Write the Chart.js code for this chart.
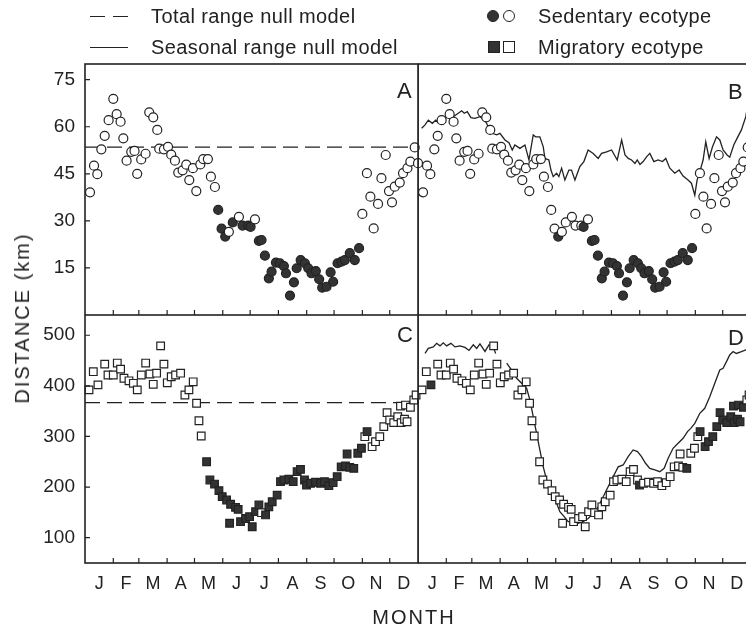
<!DOCTYPE html>
<html>
<head>
<meta charset="utf-8">
<script src="https://cdn.jsdelivr.net/npm/chart.js@4"></script>
<style>
  html, body { margin: 0; padding: 0; background: #fff; }
  body { width: 746px; height: 633px; overflow: hidden; position: relative;
         font-family: "Liberation Sans", Arial, sans-serif; color: #222; }
  #wrap { position: absolute; left: 0; top: 0; width: 770px; height: 633px; }
  canvas { position: absolute; }
  .txt { position: absolute; white-space: nowrap; line-height: 1; }
  .leg { font-size: 20px; letter-spacing: 0.4px; }
  .dash { position: absolute; height: 0; border-top: 1.5px solid #222; }
  .mk { position: absolute; width: 12px; height: 12px; border: 1.5px solid #222; box-sizing: border-box; }
  .letter { font-size: 22px; }
</style>
</head>
<body>
<div id="wrap">
  <canvas id="cA" width="430" height="261" style="left:0;top:54px"></canvas>
  <canvas id="cB" width="345" height="261" style="left:418px;top:54px"></canvas>
  <canvas id="cC" width="430" height="318" style="left:0;top:315px"></canvas>
  <canvas id="cD" width="345" height="318" style="left:418px;top:315px"></canvas>

  <!-- legend -->
  <div class="dash" style="left:90px;top:16px;width:15px"></div>
  <div class="dash" style="left:113px;top:16px;width:15px"></div>
  <div class="txt leg" style="left:151px;top:6px">Total range null model</div>
  <div class="dash" style="left:90px;top:47px;width:38px"></div>
  <div class="txt leg" style="left:151px;top:37px">Seasonal range null model</div>

  <div class="mk" style="left:487px;top:10px;border-radius:50%;background:#333"></div>
  <div class="mk" style="left:503px;top:10px;border-radius:50%;background:#fff"></div>
  <div class="txt leg" style="left:538px;top:6px">Sedentary ecotype</div>
  <div class="mk" style="left:488px;top:41px;background:#333"></div>
  <div class="mk" style="left:503px;top:41px;background:#fff"></div>
  <div class="txt leg" style="left:538px;top:37px">Migratory ecotype</div>

  <div class="txt letter" style="left:397px;top:80px">A</div>
  <div class="txt letter" style="left:728px;top:81px">B</div>
  <div class="txt letter" style="left:397px;top:324px">C</div>
  <div class="txt letter" style="left:728px;top:327px">D</div>

  <div class="txt" style="left:22px;top:318px;font-size:20px;letter-spacing:2px;transform:translate(-50%,-50%) rotate(-90deg)">DISTANCE (km)</div>
  <div class="txt" style="left:414px;top:617px;font-size:20px;letter-spacing:2px;transform:translate(-50%,-50%)">MONTH</div>
</div>

<script>
// ---- axes ----
const monthStarts = [0, 31, 59, 90, 120, 151, 181, 212, 243, 273, 304, 334, 365];
const monthLetters = ['J', 'F', 'M', 'A', 'M', 'J', 'J', 'A', 'S', 'O', 'N', 'D'];
const sedTicks = [15, 30, 45, 60, 75];
const migTicks = [100, 200, 300, 400, 500];

// ---- sedentary ecotype (panels A, B) ----
const sedDays = [5.5, 9.9, 13.5, 17.9, 21.6, 25.9, 31, 34.7, 39, 42,
  45.6, 50.7, 54.3, 57.2, 61.6, 66.4, 70.4, 74.8, 79.2, 81.4,
  86.5, 91, 94.5, 98.6, 102.2, 107, 111, 114.3, 118.3, 122,
  126.4, 129.6, 134.7, 138, 142.4, 146, 149.7, 153.7, 157.7, 162,
  168.7, 172.7, 179, 181.5, 186.3, 190.6, 193.5, 197.2, 201.5, 204.5,
  209.3, 213.7, 218, 220.3, 224.7, 229, 232, 236.4, 241, 244.7,
  248.3, 253, 256.7, 260, 264.8, 269.2, 272, 276.8, 281.2, 284.8,
  290.2, 295.7, 300.4, 304, 309, 312.8, 316.4, 321.2, 324.9, 329.6,
  333.2, 336.5, 339.5, 345, 348.6, 353.4, 356.6, 361.4, 365];
const sedVals = [39.1, 47.6, 44.9, 52.8, 57.1, 62.1, 68.9, 64.0, 61.6, 56.3,
  49.2, 52.0, 52.3, 45.0, 49.6, 51.4, 64.6, 63.0, 59.0, 53.0,
  52.8, 53.6, 51.1, 49.2, 45.4, 46.1, 47.9, 43.0, 46.8, 39.5,
  48.0, 49.7, 49.7, 44.1, 40.8, 33.5, 27.5, 25.0, 26.5, 29.5,
  31.3, 28.5, 28.5, 28.1, 30.5, 23.6, 23.9, 18.9, 11.7, 13.8,
  16.7, 16.5, 15.6, 13.3, 6.2, 10.4, 14.9, 17.5, 16.5, 14.9,
  13.3, 14.0, 11.4, 8.7, 9.0, 13.6, 10.6, 16.5, 17.0, 17.5,
  19.7, 17.5, 21.3, 32.2, 45.2, 37.7, 27.6, 35.4, 43.6, 51.0,
  39.5, 35.9, 40.9, 42.2, 45.2, 46.8, 48.9, 53.4, 48.4];
// 1 = filled marker
const sedFilledA = '0000000000 0000000000 0000000000 0000011101 0111011111 1111111111 1111111111 1110000000 000000000';
const sedFilledB = '0000000000 0000000000 0000000000 0000000100 0001011111 1111111111 1111111111 1110000000 000000000';

// ---- migratory ecotype (panels C, D) ----
const migDays = [4.4, 9.1, 14.2, 21.6, 25.2, 31, 35.4, 39, 42.7, 48.2,
  53, 57.3, 61.7, 66.5, 71.2, 74.8, 78.5, 82.9, 86.5, 90.2,
  94.5, 99.3, 104.8, 109.5, 113.9, 118.6, 122.3, 124.9, 127.4, 133.3,
  136.9, 142, 146.8, 150.4, 155.2, 159.6, 165, 167.9, 158.5, 170.5,
  176, 180.4, 183.3, 187, 190.6, 193.5, 197.9, 201.5, 205.2, 210.6,
  214.3, 218, 223.4, 228.2, 232.5, 236.2, 240.6, 242.8, 247.2, 252.7,
  258.2, 262.5, 267.3, 272, 276.4, 280.8, 285.5, 290.2, 294.6, 287.3,
  299, 303, 306.7, 309.2, 314.7, 318.4, 323.1, 327.5, 331.1, 334,
  338.4, 342.8, 346.5, 350.2, 353, 345.8, 351.3, 356.7, 360.4, 362.9];
const migVals = [392, 428, 402, 443, 421.5, 421.5, 445, 433, 415, 410,
  405, 392, 421.5, 445, 423.5, 403, 425, 479, 443, 406,
  418, 421.5, 425, 382, 392, 408, 365.6, 331, 301, 250,
  214, 206, 193, 181, 174.5, 166, 160, 156, 128.5, 131.6,
  138, 141.5, 121.7, 151.4, 164.6, 149.4, 145, 161, 171, 184,
  210.7, 214, 215.4, 210.7, 230.4, 235, 214, 204, 207.5, 209.5,
  207.5, 210.7, 202.8, 208.7, 220.5, 240, 241.7, 239, 237, 265.4,
  266.8, 276.7, 299.6, 309.5, 279.8, 289.7, 299.6, 319.4, 347, 332.6,
  327.3, 339, 327.3, 334, 329, 360, 362, 357.7, 372, 382];
const migFilledC = '0000000000 0000000000 0000000001 1111111111 1111101111 1111111111 1111111111 1101000000 0000000000';
const migFilledD = '0010000000 0000000000 0000000000 0000000000 0000000000 0000000100 0000000010 0001111111 1111111100';

// ---- null models ----
const totalNullSed = 53.5;
const totalNullMig = 367;

const seasonSedDays = [4, 7.7, 11.3, 15.7, 19.4, 23, 27.7, 30.3, 33.2, 38.7,
  44.1, 47.9, 50.7, 54, 58, 62.4, 67.9, 73.4, 77, 81.4,
  86.2, 89.8, 95.3, 99.7, 103.3, 106.2, 111.7, 117.2, 121.6, 126.3,
  128.9, 133.6, 137.3, 139.1, 143.5, 145.7, 148.2, 151.9, 154.4, 157.4,
  161, 165.4, 168.3, 172, 177.4, 181.8, 186.5, 192, 197.5, 201.2,
  206.7, 212.2, 218.4, 223.2, 226.9, 230.5, 234.1, 237.8, 240.3, 243.3,
  246.8, 250.5, 254.1, 258.5, 263.2, 268, 271.6, 276, 281.5, 286.2,
  290.6, 296, 299.7, 303.4, 305.9, 308.9, 312.5, 315.4, 319.1, 322.8,
  327.2, 330.8, 334.4, 338.8, 341.7, 346.1, 349.7, 354.5, 359.3, 363];
const seasonSedVals = [59.5, 60.6, 62.1, 61.1, 62.1, 61.1, 60.8, 62.7, 64.3, 63.2,
  64.3, 65.1, 64.3, 64.8, 62.9, 62.7, 63.2, 62.1, 60.0, 57.9,
  57.4, 57.9, 55.8, 54.9, 52.6, 54.2, 53.1, 54.2, 49.4, 57.4,
  56.8, 56.8, 53.6, 49.9, 49.4, 46.2, 44.1, 45.2, 44.1, 46.8,
  43, 46.2, 46.2, 43, 47.3, 48.9, 52.6, 51.5, 49.9, 51.5,
  52, 52.6, 49.4, 55.8, 51, 49.9, 49.4, 48.3, 49.4, 48,
  48.9, 50.4, 51.5, 48.9, 49.4, 48.9, 49.9, 46.8, 45.2, 46.2,
  44.3, 43, 42, 38.2, 43, 45.7, 49.4, 55.2, 49.9, 53.6,
  56.8, 55.8, 52.6, 51, 50.3, 54.2, 56.3, 59, 63.2, 70];

const seasonMigDays = [7.7, 11.3, 16.8, 20.4, 24.1, 27.7, 31.4, 36.1, 40.5, 46,
  51.5, 55.9, 60.6, 64.3, 67.9, 73.4, 77.8, 82.5, 85.1, 90,
  97.2, 102.6, 108.1, 113.6, 119.1, 122.7, 126.3, 130, 133.6, 137.3,
  141, 144.6, 148.2, 151.9, 155.5, 160.2, 164.6, 170.1, 175.6, 181,
  186.5, 192, 197.5, 203, 208.4, 213.9, 219.4, 224.9, 230.3, 235.8,
  240.6, 245, 249.4, 254.1, 259.6, 265, 269.8, 274.2, 279.6, 285.1,
  290.6, 295.4, 299, 303.4, 308.9, 314.3, 319.8, 325.3, 330.8, 334.4,
  338.1, 341.7, 345.4, 349, 354.5, 359.3, 364];
const seasonMigVals = [464, 474, 477, 484, 479, 485, 479, 484, 477, 479,
  476, 470, 481, 474, 483, 468, 481, 477, 464, null,
  444.7, 431, 415, 405, 395, 372, 339, 306, 273, 240,
  214, 197.6, 181, 168, 151.4, 141.5, 131.6, 131.6, 128.5, 131.6,
  138, 148, 161, 181, 200.8, 220.5, 240, 243.7, 260, 273.3,
  270, 260, 247, 237, 233.8, 230.4, 237, 257, 276.7, 286.6,
  296.4, 309.5, 316, 326, 345.8, 355.7, 378.6, 405, 431.4, 434.8,
  447.8, 461, 467.6, 464, 467.6, 471, 472];

/* ========================================================= */
Chart.defaults.font.family = '"Liberation Sans", Arial, sans-serif';
Chart.defaults.color = '#222';

const INK = '#222';
const flags = (s) => s.replace(/\s/g, '').split('').map(Number);
const pairs = (xs, ys) => xs.map((x, i) => ({ x, y: ys[i] }));

const framePlugin = {
  id: 'frame',
  afterDraw(chart, args, opts) {
    const { ctx, chartArea: a, scales: { x, y } } = chart;
    ctx.save();
    ctx.strokeStyle = INK;
    ctx.lineWidth = 1.6;
    ctx.strokeRect(a.left, a.top, a.right - a.left, a.bottom - a.top);
    ctx.lineWidth = 1.2;
    ctx.beginPath();
    monthStarts.slice(1, -1).forEach(d => {
      const px = x.getPixelForValue(d);
      ctx.moveTo(px, a.bottom); ctx.lineTo(px, a.bottom - 5);
    });
    opts.yTicks.forEach(v => {
      const py = y.getPixelForValue(v);
      if (opts.left) { ctx.moveTo(a.left, py); ctx.lineTo(a.left + 5, py); }
      if (opts.right) { ctx.moveTo(a.right, py); ctx.lineTo(a.right - 5, py); }
    });
    ctx.stroke();
    ctx.restore();
  }
};

const pointSet = (days, vals, filled, style) => ({
  data: pairs(days, vals),
  pointStyle: style,
  pointRadius: style === 'rect' ? 5.4 : 4.5,
  pointBorderWidth: 1.2,
  pointBorderColor: INK,
  pointBackgroundColor: flags(filled).map(f => f ? '#333' : '#fff'),
  showLine: false,
  clip: false
});

const nullLine = (value) => ({
  data: [{ x: 0, y: value }, { x: 365, y: value }],
  showLine: true, pointRadius: 0,
  borderColor: INK, borderWidth: 1.3, borderDash: [15, 7]
});

const seasonLine = (days, vals) => ({
  data: pairs(days, vals),
  showLine: true, pointRadius: 0, spanGaps: false,
  borderColor: INK, borderWidth: 1.3, tension: 0
});

const makePanel = (canvasId, p) => {
  new Chart(document.getElementById(canvasId), {
    type: 'scatter',
    data: { datasets: p.datasets },
    options: {
      responsive: false, animation: false, devicePixelRatio: 1,
      layout: { autoPadding: false, padding: { top: p.padTop, right: 12, left: 0, bottom: 0 } },
      plugins: {
        legend: { display: false }, tooltip: { enabled: false },
        frame: { yTicks: p.yTicks, left: p.leftTicks, right: p.rightTicks }
      },
      scales: {
        x: {
          type: 'linear', min: 0, max: 365,
          display: p.showX,
          grid: { display: false, drawTicks: false },
          border: { display: false },
          afterBuildTicks: (s) => {
            s.ticks = monthLetters.map((m, i) => ({ value: (monthStarts[i] + monthStarts[i + 1]) / 2 }));
          },
          afterFit: (s) => {
            s.height = p.showX ? 70 : 0;
            s.paddingLeft = 0; s.paddingRight = 0;
          },
          ticks: {
            autoSkip: false, maxRotation: 0, padding: 10,
            font: { size: 18 }, color: INK,
            callback: (v, i) => monthLetters[i]
          }
        },
        y: {
          type: 'linear', min: p.yMin, max: p.yMax,
          display: p.showY,
          grid: { display: false, drawTicks: false },
          border: { display: false },
          afterBuildTicks: (s) => { s.ticks = p.yTicks.map(v => ({ value: v })); },
          afterFit: (s) => {
            s.width = p.showY ? 85 : 0;
            s.paddingTop = 0; s.paddingBottom = 0;
          },
          ticks: { padding: 10, font: { size: 19 }, color: INK }
        }
      }
    },
    plugins: [framePlugin]
  });
};

makePanel('cA', {
  yMin: 0, yMax: 80, yTicks: sedTicks, showY: true, showX: false, padTop: 10,
  leftTicks: true, rightTicks: false,
  datasets: [pointSet(sedDays, sedVals, sedFilledA, 'circle'), nullLine(totalNullSed)]
});
makePanel('cB', {
  yMin: 0, yMax: 80, yTicks: sedTicks, showY: false, showX: false, padTop: 10,
  leftTicks: false, rightTicks: true,
  datasets: [pointSet(sedDays, sedVals, sedFilledB, 'circle'), seasonLine(seasonSedDays, seasonSedVals)]
});
makePanel('cC', {
  yMin: 50, yMax: 540, yTicks: migTicks, showY: true, showX: true, padTop: 0,
  leftTicks: true, rightTicks: false,
  datasets: [pointSet(migDays, migVals, migFilledC, 'rect'), nullLine(totalNullMig)]
});
makePanel('cD', {
  yMin: 50, yMax: 540, yTicks: migTicks, showY: false, showX: true, padTop: 0,
  leftTicks: false, rightTicks: true,
  datasets: [pointSet(migDays, migVals, migFilledD, 'rect'), seasonLine(seasonMigDays, seasonMigVals)]
});
</script>
</body>
</html>
